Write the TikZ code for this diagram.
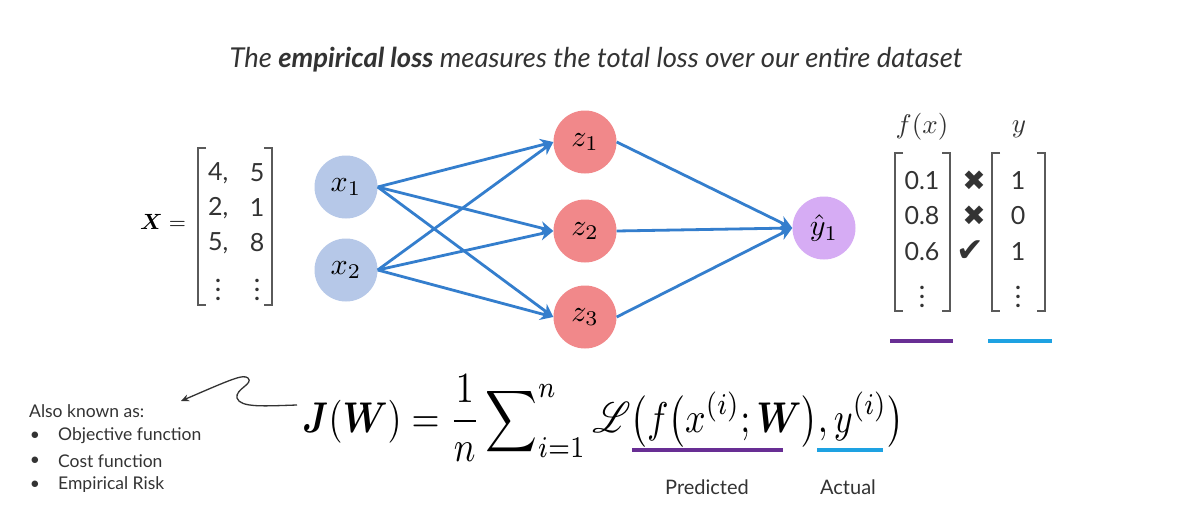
\documentclass[tikz,border=0pt]{standalone}
\usepackage{amsmath,bm,mathrsfs,graphicx}
\usepackage[no-math]{fontspec}
\setmainfont{Lato}
\newfontfamily\symfont{DejaVu Sans}
\usetikzlibrary{arrows.meta}
\newcommand{\msc}[2]{\scalebox{#1}{#2}}
\definecolor{inpc}{RGB}{182,200,232}
\definecolor{hidc}{RGB}{241,136,138}
\definecolor{outc}{RGB}{214,172,244}
\definecolor{edgec}{RGB}{52,126,205}
\definecolor{txtc}{RGB}{51,51,51}
\definecolor{brc}{RGB}{90,90,90}
\definecolor{purp}{RGB}{104,46,148}
\definecolor{cyanl}{RGB}{30,162,226}
\tikzset{
  neuron/.style={circle, inner sep=0pt, minimum size=63pt, font=\normalsize},
  inp/.style={neuron, fill=inpc},
  hid/.style={neuron, fill=hidc},
  outn/.style={neuron, fill=outc},
  conn/.style={draw=edgec, line width=2.8pt, -{Stealth[length=13pt,width=13pt]}},
  brk/.style={draw=brc, line width=1.3pt},
  ent/.style={inner sep=0pt, text=txtc, font=\fontsize{25}{28}\selectfont},
  dts/.style={inner sep=0pt, text=txtc, font=\normalsize},
  mlb/.style={inner sep=0pt, text=txtc, font=\normalsize},
  lbl/.style={inner sep=0pt, text=txtc, font=\fontsize{20}{24}\selectfont},
  sym/.style={inner sep=0pt, text=txtc, font=\symfont\fontsize{28}{30}\selectfont},
  uline/.style={line width=3.2pt},
}
\begin{document}
\begin{tikzpicture}[x=1pt,y=-1pt]
\useasboundingbox[fill=white] (0,0) rectangle (1179,514);

% title
\node[inner sep=0pt, text=txtc, font=\fontsize{27.4}{32}\selectfont\itshape] (title) at (596,60)
  {The \textbf{empirical loss} measures the total loss over our entire dataset};

% input matrix X
\node[mlb, text=black] (Xeq) at (163,222) {\msc{2.2}{$\bm{X} =$}};
\draw[brk] (206,148) -- (198,148) -- (198,305) -- (206,305);
\draw[brk] (264,148) -- (272,148) -- (272,305) -- (264,305);
\node[ent, anchor=west] (a11) at (208,173) {4,};
\node[ent, anchor=west] (a21) at (208,208) {2,};
\node[ent, anchor=west] (a31) at (208,243) {5,};
\node[dts] (a41) at (218,283) {\msc{2.3}{$\bm{\vdots}$}};
\node[ent] (a12) at (257,173) {5};
\node[ent] (a22) at (257,208) {1};
\node[ent] (a32) at (257,243) {8};
\node[dts] (a42) at (257,283) {\msc{2.3}{$\bm{\vdots}$}};

% network
\node[inp] (x1) at (346,187) {\msc{3.0}{$x_1$}};
\node[inp] (x2) at (346,270) {\msc{3.0}{$x_2$}};
\node[hid] (z1) at (585,142) {\msc{3.0}{$z_1$}};
\node[hid] (z2) at (585,231) {\msc{3.0}{$z_2$}};
\node[hid] (z3) at (585,317) {\msc{3.0}{$z_3$}};
\node[outn] (y1) at (824,228) {\msc{3.0}{$\hat{y}_1$}};
\foreach \s in {x1,x2}
  \foreach \t in {z1,z2,z3}
    \draw[conn] (\s.east) -- (\t.west);
\foreach \s in {z1,z2,z3}
  \draw[conn] (\s.east) -- (y1.west);

% prediction / label vectors
\node[mlb] (fxl) at (922,127) {\msc{2.7}{$f(x)$}};
\node[mlb] (yl) at (1019,129) {\msc{2.7}{$y$}};
\draw[brk] (903,153) -- (895,153) -- (895,311) -- (903,311);
\draw[brk] (942,153) -- (950,153) -- (950,311) -- (942,311);
\draw[brk] (1000,153) -- (992,153) -- (992,311) -- (1000,311);
\draw[brk] (1037,153) -- (1045,153) -- (1045,311) -- (1037,311);
\node[ent] (p1) at (922,181) {0.1};
\node[ent] (p2) at (922,216) {0.8};
\node[ent] (p3) at (922,252) {0.6};
\node[dts] (p4) at (922,290) {\msc{2.3}{$\bm{\vdots}$}};
\node[sym] (m1) at (974,181) {✖};
\node[sym] (m2) at (974,216) {✖};
\node[sym, font=\symfont\fontsize{33}{34}\selectfont] (m3) at (970,251) {✔};
\node[ent] (q1) at (1018,181) {1};
\node[ent] (q2) at (1018,216) {0};
\node[ent] (q3) at (1018,252) {1};
\node[dts] (q4) at (1018,290) {\msc{2.3}{$\bm{\vdots}$}};
\coordinate (pl1) at (890,341); \coordinate (pl2) at (953,341);
\coordinate (bl1) at (988,341); \coordinate (bl2) at (1052,341);
\draw[uline, purp] (pl1) -- (pl2);
\draw[uline, cyanl] (bl1) -- (bl2);

% formula
\node[inner sep=0pt, anchor=base west, font=\normalsize] (formula) at (302,432)
  {\scalebox{3.6}[4.3]{$\displaystyle \bm{J}(\bm{W}) = \frac{1}{n}\sum\nolimits_{i=1}^{n} \mathscr{L}\bigl(f\bigl(x^{(i)};\bm{W}\bigr), y^{(i)}\bigr)$}};
\coordinate (f1) at (632,450); \coordinate (f2) at (783,450);
\coordinate (g1) at (817,450); \coordinate (g2) at (883,450);
\draw[uline, purp] (f1) -- (f2);
\draw[uline, cyanl] (g1) -- (g2);
\node[lbl] (pred) at (707,487) {Predicted};
\node[lbl] (act) at (848,487) {Actual};

% also known as
\node[lbl, anchor=west, font=\fontsize{17.5}{20}\selectfont] (aka) at (29,411) {Also known as:};
\foreach \yy/\tt [count=\k] in {436/Objective function, 461/Cost function, 485/Empirical Risk}{
  \node[lbl, font=\fontsize{17.5}{20}\selectfont] (b\k) at (35,\yy) {•};
  \node[lbl, anchor=west, font=\fontsize{17.5}{20}\selectfont] (it\k) at (58,\yy) {\tt};
}
\coordinate (sqs) at (297,405);
\coordinate (sqe) at (181,401);
\draw[line width=1.3pt, draw=txtc, -{Stealth[length=8pt,width=7pt]}]
  (sqs) .. controls (265,406) and (240,408) .. (237,398)
        .. controls (235,389) and (254,384) .. (248,378)
        .. controls (243,374) and (232,379) .. (sqe);
\end{tikzpicture}
\end{document}
